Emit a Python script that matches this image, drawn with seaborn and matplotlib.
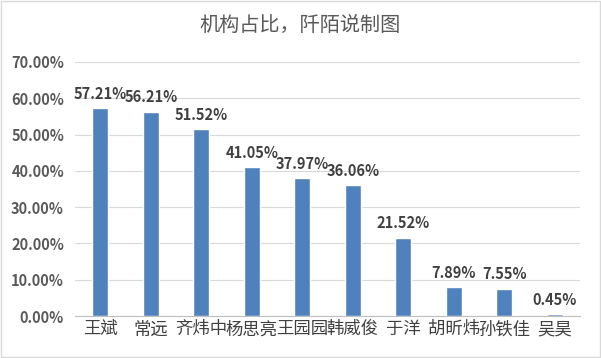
import matplotlib
matplotlib.use("Agg")
import matplotlib.pyplot as plt
import seaborn as sns
import pandas as pd
from matplotlib.ticker import PercentFormatter
from matplotlib.patches import Rectangle

names = ["王斌", "常远", "齐炜中", "杨思亮", "王园园", "韩威俊", "于洋", "胡昕炜", "孙铁佳", "吴昊"]
shares = [57.21, 56.21, 51.52, 41.05, 37.97, 36.06, 21.52, 7.89, 7.55, 0.45]

df = pd.DataFrame({"name": names, "share": shares})

sns.set_theme(style="white")
plt.rcParams['font.family'] = ['Noto Sans CJK SC', 'DejaVu Sans']

fig = plt.figure(figsize=(6.01, 3.58), dpi=100)
ax = fig.add_axes([0.125, 0.117, 0.84, 0.71])

sns.barplot(data=df, x="name", y="share", color="#4F81BD", width=0.32,
            saturation=1, ax=ax, zorder=3)

ax.set_ylim(0, 70)
ax.set_yticks(range(0, 71, 10))
ax.yaxis.set_major_formatter(PercentFormatter(decimals=2))
ax.grid(axis="y", color="#D9D9D9", linewidth=0.8, zorder=0)
ax.set_xlabel("")
ax.set_ylabel("")
for s in ["top", "right", "left"]:
    ax.spines[s].set_visible(False)
ax.spines["bottom"].set_color("#BFBFBF")
ax.spines["bottom"].set_linewidth(0.8)
ax.tick_params(axis="y", length=0, labelsize=10.5, labelcolor="#595959", pad=8)
ax.tick_params(axis="x", length=0, labelsize=12.5, labelcolor="#404040", pad=3)
for lbl in ax.get_yticklabels():
    lbl.set_fontweight("bold")

for i, v in enumerate(shares):
    ax.text(i, v + 1.8, f"{v:.2f}%", ha="center", va="bottom",
            fontsize=10.5, fontweight="bold", color="#404040")

fig.text(0.5, 0.93, "机构占比，阡陌说制图", ha="center", va="center",
         fontsize=14.5, color="#595959")

fig.patches.append(Rectangle((0.002, 0.003), 0.996, 0.994, transform=fig.transFigure,
                             fill=False, edgecolor="#D9D9D9", linewidth=1))

fig.savefig("out.png", dpi=100)
